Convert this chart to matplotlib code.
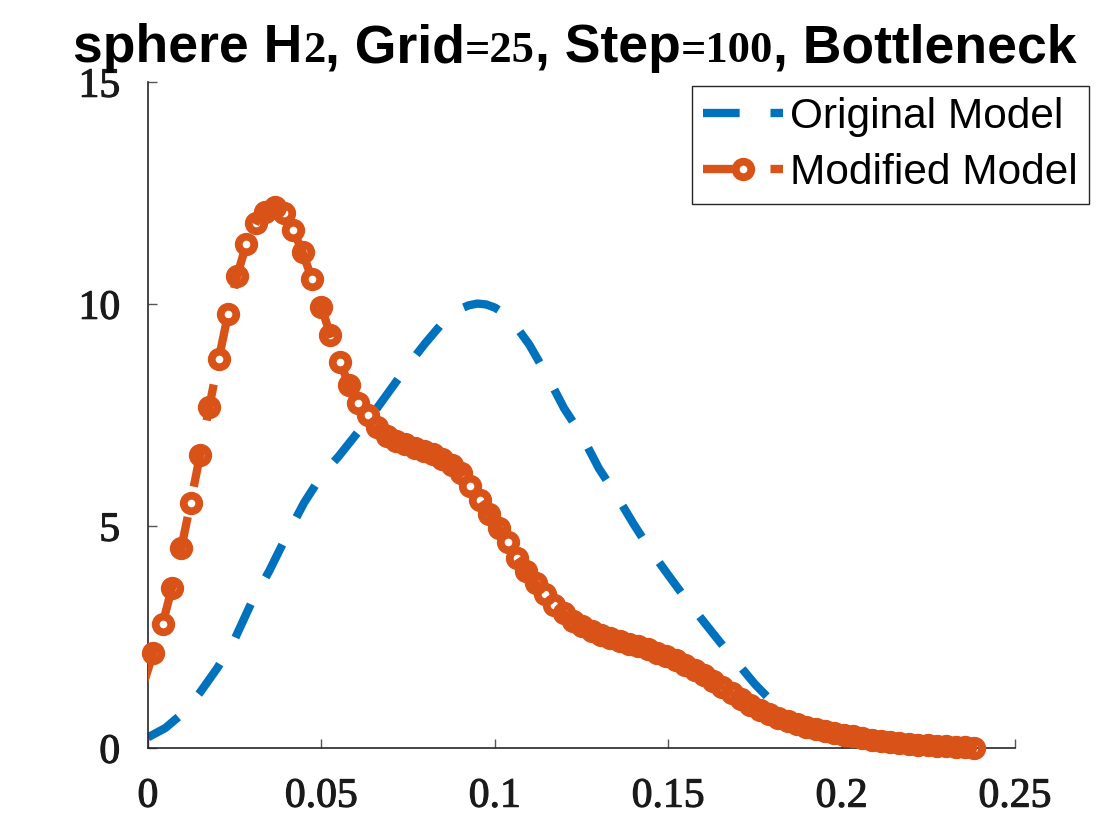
import matplotlib
matplotlib.use("Agg")
import matplotlib.pyplot as plt
import matplotlib.patheffects as pe
import numpy as np
from matplotlib.lines import Line2D

# Original Model (blue dashed)
blue_x = [0.000, 0.005, 0.010, 0.015, 0.020, 0.025, 0.030, 0.035, 0.040, 0.045,
          0.050, 0.055, 0.060, 0.065, 0.070, 0.075, 0.080, 0.085, 0.0875, 0.090,
          0.0925, 0.095, 0.0975, 0.100, 0.1025, 0.105, 0.110, 0.115, 0.120, 0.125,
          0.130, 0.135, 0.140, 0.145, 0.150, 0.155, 0.160, 0.165, 0.170, 0.175,
          0.180, 0.185, 0.190, 0.195, 0.200, 0.205, 0.210, 0.215, 0.220, 0.225,
          0.230, 0.235]
blue_y = [0.24, 0.45, 0.78, 1.25, 1.80, 2.45, 3.30, 3.99, 4.78, 5.52,
          6.13, 6.57, 7.06, 7.54, 8.08, 8.62, 9.12, 9.58, 9.76, 9.89,
          9.97, 10.01, 9.99, 9.92, 9.80, 9.62, 9.08, 8.40, 7.65, 7.05,
          6.30, 5.70, 5.05, 4.44, 3.90, 3.37, 2.87, 2.38, 1.91, 1.44,
          1.04, 0.75, 0.52, 0.36, 0.25, 0.17, 0.11, 0.07, 0.04, 0.03,
          0.02, 0.01]

# Modified Model (orange, dashed with open circles)
orange_x = [-0.0012, 0.0015, 0.0042, 0.0069, 0.0096, 0.0123, 0.0150, 0.0177, 0.0204, 0.0231,
            0.0257, 0.0284, 0.0311, 0.0338, 0.0365, 0.0392, 0.0419, 0.0446, 0.0473, 0.0500,
            0.0526, 0.0553, 0.0580, 0.0607, 0.0634, 0.0661, 0.0688, 0.0715, 0.0742, 0.0769,
            0.0795, 0.0822, 0.0849, 0.0876, 0.0903, 0.0930, 0.0957, 0.0984, 0.1011, 0.1038,
            0.1064, 0.1091, 0.1118, 0.1145, 0.1172, 0.1199, 0.1226, 0.1253, 0.1280, 0.1307,
            0.1333, 0.1360, 0.1387, 0.1414, 0.1441, 0.1468, 0.1495, 0.1522, 0.1549, 0.1576,
            0.1602, 0.1629, 0.1656, 0.1683, 0.1710, 0.1737, 0.1764, 0.1791, 0.1818, 0.1845,
            0.1871, 0.1898, 0.1925, 0.1952, 0.1979, 0.2006, 0.2033, 0.2060, 0.2087, 0.2114,
            0.2140, 0.2167, 0.2194, 0.2221, 0.2248, 0.2275, 0.2302, 0.2329, 0.2356, 0.2383]
orange_y = [1.47, 2.13, 2.79, 3.60, 4.50, 5.52, 6.59, 7.69, 8.76, 9.77,
            10.64, 11.35, 11.83, 12.08, 12.19, 12.04, 11.67, 11.16, 10.56, 9.94,
            9.30, 8.70, 8.18, 7.78, 7.50, 7.22, 7.02, 6.92, 6.84, 6.76,
            6.69, 6.62, 6.51, 6.38, 6.20, 5.90, 5.58, 5.28, 4.96, 4.64,
            4.29, 3.98, 3.71, 3.46, 3.23, 3.03, 2.87, 2.74, 2.63, 2.54,
            2.47, 2.40, 2.35, 2.29, 2.22, 2.15, 2.07, 1.99, 1.88, 1.76,
            1.64, 1.51, 1.38, 1.24, 1.10, 0.98, 0.86, 0.76, 0.68, 0.61,
            0.54, 0.48, 0.43, 0.38, 0.34, 0.30, 0.26, 0.22, 0.19, 0.16,
            0.13, 0.11, 0.09, 0.07, 0.06, 0.05, 0.04, 0.03, 0.02, 0.01]

x_ticks = [0, 0.05, 0.1, 0.15, 0.2, 0.25]
x_tick_labels = ["0", "0.05", "0.1", "0.15", "0.2", "0.25"]
y_ticks = [0, 5, 10, 15]
y_tick_labels = ["0", "5", "10", "15"]

# title pieces: (text, is_number)
title_parts = [("sphere H", False), ("2", True), (", Grid", False), ("=25", True),
               (", Step", False), ("=100", True), (", Bottleneck", False)]

BLUE = "#0072BD"
ORANGE = "#D95319"
DASH = (4.4, 3.7)

fig = plt.figure(figsize=(11.2, 8.4), dpi=100)
ax = fig.add_axes([0.1321, 0.1095, 0.7741, 0.7929])

ax.plot(blue_x, blue_y, color=BLUE, lw=6, dashes=DASH, zorder=2)

ox = np.array(orange_x)
oy = np.array(orange_y)
vis = ox >= 0
ax.plot(ox[vis], oy[vis], ls="none", marker="o", ms=11.2, mew=5.6,
        mec=ORANGE, mfc="none", clip_on=False, zorder=3)
ax.plot(ox, oy, color=ORANGE, lw=6, dashes=DASH, zorder=4)

ax.set_xlim(0, 0.25)
ax.set_ylim(0, 15)
ax.set_xticks(x_ticks)
ax.set_xticklabels(x_tick_labels)
ax.set_yticks(y_ticks)
ax.set_yticklabels(y_tick_labels)

for s in ("top", "right"):
    ax.spines[s].set_visible(False)
for s in ("left", "bottom"):
    ax.spines[s].set_linewidth(1.2)
    ax.spines[s].set_color("#262626")

ax.tick_params(direction="in", length=6.5, width=1, color="#555555",
               labelcolor="#1a1a1a", labelsize=30)
ax.tick_params(axis="x", pad=21)
ax.tick_params(axis="y", pad=20)
for lab in ax.get_xticklabels() + ax.get_yticklabels():
    lab.set_family("Liberation Serif")
    lab.set_path_effects([pe.withStroke(linewidth=0.8, foreground="#1a1a1a")])

handles = [
    Line2D([], [], color=BLUE, lw=6, dashes=DASH),
    Line2D([], [], color=ORANGE, lw=6, dashes=DASH, marker="o", ms=11.2, mew=5.6,
           mec=ORANGE, mfc="white"),
]
leg = ax.legend(handles, ["Original Model", "Modified Model"],
                loc="upper right", bbox_to_anchor=(0.9723, 0.8976),
                bbox_transform=fig.transFigure, borderaxespad=0,
                prop={"family": "Liberation Sans", "size": 30.5},
                handlelength=1.9, handletextpad=0.17, labelspacing=0.38,
                borderpad=0.26, numpoints=1, fancybox=False, framealpha=1)
leg.get_frame().set_edgecolor("#262626")
leg.get_frame().set_linewidth(1.0)

# title built from pieces: bold sans words, serif numbers
fig.canvas.draw()
renderer = fig.canvas.get_renderer()
texts = []
x = 0.0
for s, is_num in title_parts:
    if is_num:
        t = fig.text(x, 0.926, s, fontsize=32, fontweight="bold",
                     family="Liberation Serif", va="baseline", ha="left")
    else:
        t = fig.text(x, 0.926, s, fontsize=38.5, fontweight="bold",
                     family="Liberation Sans", va="baseline", ha="left")
    w = t.get_window_extent(renderer).width / fig.bbox.width
    texts.append((t, x))
    x += w
start = 575 / 1120 - x / 2
for t, x0 in texts:
    t.set_x(start + x0)

fig.savefig("out.png", dpi=100)
